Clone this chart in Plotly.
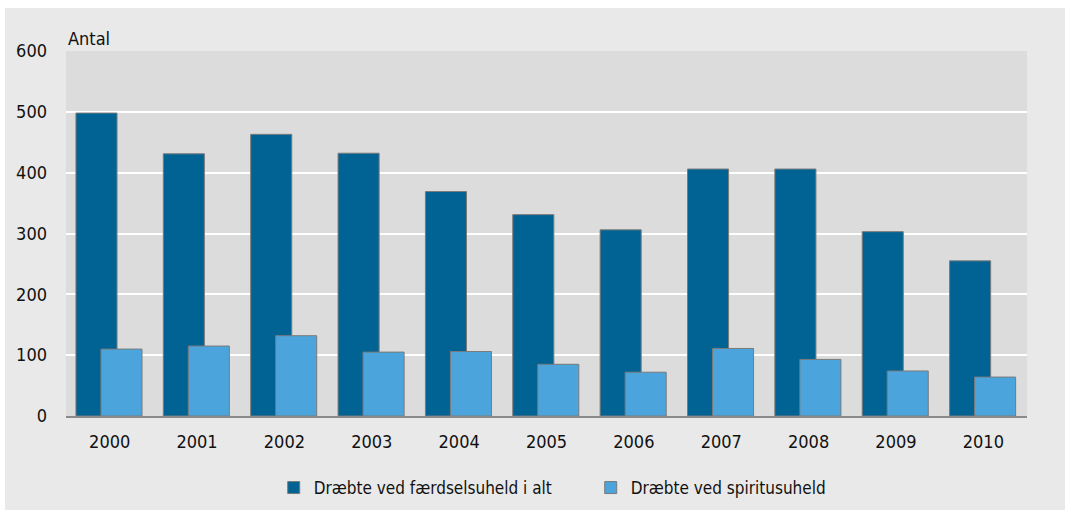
import plotly.graph_objects as go

years = ["2000", "2001", "2002", "2003", "2004", "2005", "2006", "2007", "2008", "2009", "2010"]
total_killed = [498, 431, 463, 432, 369, 331, 306, 406, 406, 303, 255]
drunk_killed = [110, 115, 132, 105, 106, 85, 72, 111, 93, 74, 64]
name_total = "Dræbte ved færdselsuheld i alt"
name_drunk = "Dræbte ved spiritusuheld"
y_ticks = [0, 100, 200, 300, 400, 500, 600]

FONT = "DejaVu Sans Condensed, Liberation Sans Narrow, sans-serif"
DARK = "#006394"
LIGHT = "#4ba5dc"
EDGE = "#7a7a7a"

fig = go.Figure()
fig.add_trace(go.Bar(
    x=years, y=total_killed, name=name_total,
    marker=dict(color=DARK, line=dict(color=EDGE, width=1)),
    width=0.47, offset=-0.386,
))
fig.add_trace(go.Bar(
    x=years, y=drunk_killed, name=name_drunk,
    marker=dict(color=LIGHT, line=dict(color=EDGE, width=1)),
    width=0.47, offset=-0.10,
))

W, H = 1068, 511
L, R, T, B = 66, 41, 51, 95
pw, ph = W - L - R, H - T - B

fig.update_layout(
    width=W, height=H,
    margin=dict(l=L, r=R, t=T, b=B, autoexpand=False),
    barmode="overlay",
    paper_bgcolor="white",
    plot_bgcolor="#dcdcdc",
    font=dict(family=FONT, size=18, color="#111111"),
    showlegend=True,
    legend=dict(
        orientation="h", x=0.546, xanchor="center",
        yref="container", y=(H - 488) / H, yanchor="middle",
        bgcolor="rgba(0,0,0,0)", font=dict(family=FONT, size=17),
        itemwidth=30, entrywidth=272, entrywidthmode="pixels",
    ),
    xaxis=dict(
        type="category", showgrid=False, showline=True, linecolor="#8a8a8a",
        linewidth=1.5, ticks="", tickfont=dict(size=18), ticklabelstandoff=9,
        automargin=False,
    ),
    yaxis=dict(
        range=[0, 600], tickvals=y_ticks, showgrid=True, gridcolor="white",
        gridwidth=2, zeroline=False, showline=False, ticks="",
        tickfont=dict(size=18), ticklabelstandoff=18, automargin=False,
    ),
    shapes=[
        dict(
            type="rect", xref="paper", yref="paper", layer="below",
            x0=(5 - L) / pw, x1=(1065 - L) / pw,
            y0=-(510 - (H - B)) / ph, y1=1 + (T - 8) / ph,
            fillcolor="#e9e9e9", line=dict(width=0),
        ),
        dict(
            type="rect", xref="paper", yref="paper", layer="below",
            x0=0, x1=1, y0=0, y1=1,
            fillcolor="#dcdcdc", line=dict(width=0),
        ),
    ],
    annotations=[dict(
        text="Antal", xref="paper", yref="paper", x=0, y=1,
        xanchor="left", yanchor="bottom", showarrow=False,
        font=dict(family=FONT, size=18),
    )],
)

fig.write_html("out.html", config={"displayModeBar": False},
               post_script="document.body.style.margin='0';")
